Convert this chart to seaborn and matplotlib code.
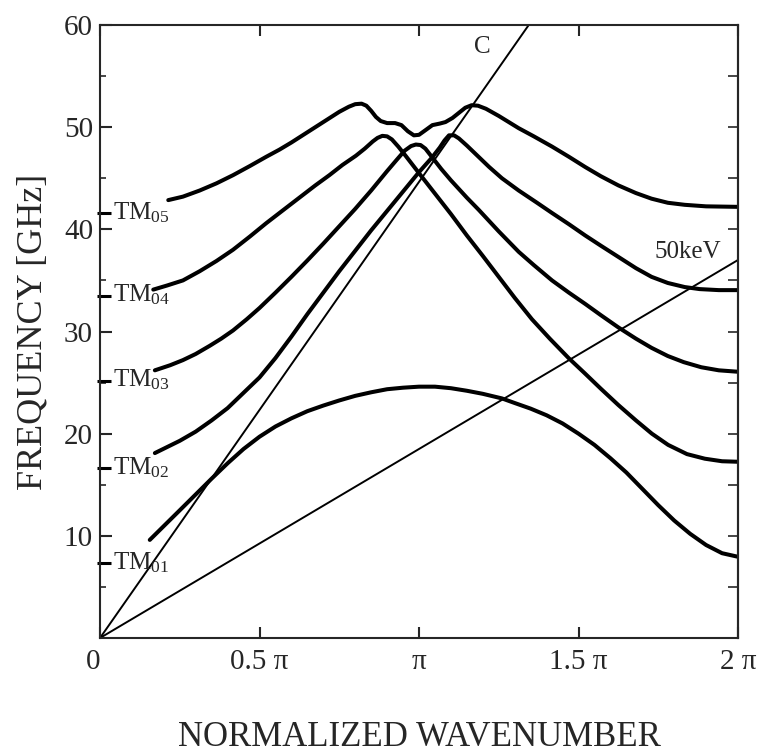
import numpy as np
import pandas as pd
import matplotlib
matplotlib.use("Agg")
import matplotlib.pyplot as plt
from matplotlib.ticker import MultipleLocator
import seaborn as sns

# Dispersion of the corrugated waveguide: wavenumber k (in units of pi) vs frequency (GHz)
tm01_k = [0.156, 0.25, 0.35, 0.40, 0.45, 0.50, 0.55, 0.60, 0.65, 0.70, 0.75, 0.80,
          0.85, 0.90, 0.95, 1.00, 1.05, 1.10, 1.15, 1.20, 1.26, 1.30, 1.35, 1.40,
          1.45, 1.50, 1.55, 1.60, 1.65, 1.70, 1.75, 1.80, 1.85, 1.90, 1.95, 2.00]
tm01_f = [9.6, 12.5, 15.6, 17.1, 18.5, 19.7, 20.7, 21.5, 22.2, 22.75, 23.25, 23.7,
          24.05, 24.35, 24.5, 24.6, 24.6, 24.45, 24.2, 23.9, 23.45, 23.0, 22.45, 21.8,
          21.0, 20.0, 18.9, 17.6, 16.2, 14.6, 13.0, 11.5, 10.2, 9.1, 8.3, 7.95]

tm02_tm04_k = [0.172, 0.25, 0.30, 0.35, 0.40, 0.45, 0.50, 0.55, 0.60, 0.65, 0.70, 0.75,
               0.80, 0.85, 0.90, 0.95, 1.00, 1.04, 1.065, 1.08, 1.094, 1.11, 1.125,
               1.15, 1.18, 1.22, 1.26, 1.3125, 1.37, 1.417, 1.47, 1.521, 1.57, 1.625,
               1.68, 1.729, 1.78, 1.833, 1.88, 1.94, 2.0]
tm02_tm04_f = [18.1, 19.3, 20.2, 21.3, 22.5, 24.0, 25.5, 27.4, 29.5, 31.7, 33.8, 35.9,
               37.9, 39.9, 41.8, 43.7, 45.6, 47.0, 48.0, 48.7, 49.2, 49.2, 48.9,
               48.2, 47.3, 46.1, 45.0, 43.8, 42.6, 41.6, 40.5, 39.4, 38.4, 37.3,
               36.2, 35.35, 34.75, 34.35, 34.15, 34.05, 34.05]

tm04_tm02_k = [0.167, 0.21, 0.26, 0.3125, 0.365, 0.417, 0.47, 0.521, 0.575, 0.625,
               0.675, 0.719, 0.76, 0.802, 0.83, 0.855, 0.87, 0.885, 0.9, 0.915, 0.935,
               0.958, 1.0, 1.05, 1.1, 1.15, 1.2, 1.25, 1.3, 1.354, 1.41, 1.469, 1.52,
               1.57, 1.625, 1.68, 1.73, 1.781, 1.84, 1.896, 1.95, 2.0]
tm04_tm02_f = [34.1, 34.5, 35.0, 35.9, 36.9, 38.0, 39.3, 40.6, 41.9, 43.1,
               44.3, 45.3, 46.3, 47.2, 47.9, 48.6, 48.95, 49.15, 49.1, 48.8, 48.1,
               47.2, 45.5, 43.5, 41.5, 39.4, 37.4, 35.35, 33.3, 31.2, 29.3, 27.4, 25.9,
               24.4, 22.8, 21.3, 20.0, 18.9, 18.0, 17.55, 17.3, 17.25]

tm03_k = [0.172, 0.22, 0.26, 0.30, 0.344, 0.38, 0.417, 0.46, 0.5, 0.55, 0.6, 0.65,
          0.7, 0.75, 0.8, 0.85, 0.9, 0.93, 0.955, 0.975, 0.99, 1.005, 1.02, 1.04,
          1.07, 1.1, 1.15, 1.1875, 1.25, 1.3125, 1.36, 1.417, 1.47, 1.521, 1.57,
          1.625, 1.68, 1.729, 1.78, 1.83, 1.885, 1.94, 2.0]
tm03_f = [26.2, 26.7, 27.2, 27.8, 28.6, 29.3, 30.1, 31.2, 32.3, 33.8, 35.35, 36.95,
          38.6, 40.3, 42.0, 43.8, 45.7, 46.8, 47.7, 48.15, 48.3, 48.25, 47.9, 47.1,
          45.9, 44.8, 43.1, 41.9, 39.8, 37.8, 36.5, 35.0, 33.8, 32.7, 31.6,
          30.4, 29.3, 28.4, 27.6, 27.0, 26.5, 26.2, 26.06]

tm05_k = [0.214, 0.26, 0.3125, 0.365, 0.417, 0.47, 0.521, 0.5625, 0.6, 0.64, 0.68,
          0.72, 0.75, 0.78, 0.80, 0.82, 0.835, 0.85, 0.865, 0.88, 0.9, 0.925, 0.945,
          0.965, 0.984, 1.0, 1.02, 1.042, 1.065, 1.083, 1.105, 1.125, 1.145, 1.165,
          1.185, 1.21, 1.25, 1.3125, 1.36, 1.417, 1.47, 1.521, 1.57, 1.625, 1.68,
          1.729, 1.78, 1.833, 1.9, 2.0]
tm05_f = [42.86, 43.2, 43.8, 44.5, 45.3, 46.2, 47.1, 47.8, 48.5, 49.3, 50.1,
          50.9, 51.5, 52.0, 52.25, 52.3, 52.1, 51.6, 51.0, 50.6, 50.4, 50.4, 50.2,
          49.6, 49.2, 49.25, 49.7, 50.2, 50.35, 50.5, 50.9, 51.4, 51.9, 52.15,
          52.1, 51.8, 51.1, 49.9, 49.1, 48.1, 47.1, 46.1, 45.2, 44.3, 43.55,
          43.0, 42.6, 42.4, 42.25, 42.2]

# Cutoff frequencies of the smooth-pipe TM0n modes
cutoff_names = ["TM$_{01}$", "TM$_{02}$", "TM$_{03}$", "TM$_{04}$", "TM$_{05}$"]
cutoff_f = [7.3, 16.6, 25.2, 33.5, 41.6]

# Speed-of-light line and 50 keV beam line
light_k = [0.0, 1.344]
light_f = [0.0, 60.0]
beam_k = [0.0, 2.0]
beam_f = [0.0, 37.0]

xtick_vals = [0, 0.5, 1, 1.5, 2]
xtick_labels = ["0", "0.5 \u03c0", "\u03c0", "1.5 \u03c0", "2 \u03c0"]
ytick_vals = [10, 20, 30, 40, 50, 60]
ytick_labels = ["10", "20", "30", "40", "50", "60"]

sns.set_style("ticks")
plt.rcParams["font.family"] = ["Liberation Serif", "DejaVu Serif"]
plt.rcParams["mathtext.fontset"] = "custom"
plt.rcParams["mathtext.rm"] = "Liberation Serif"
plt.rcParams["mathtext.it"] = "Liberation Serif:italic"
plt.rcParams["axes.linewidth"] = 1.5

curves = pd.concat([
    pd.DataFrame({"k": tm01_k, "f": tm01_f, "curve": "TM01"}),
    pd.DataFrame({"k": tm02_tm04_k, "f": tm02_tm04_f, "curve": "TM02-TM04"}),
    pd.DataFrame({"k": tm04_tm02_k, "f": tm04_tm02_f, "curve": "TM04-TM02"}),
    pd.DataFrame({"k": tm03_k, "f": tm03_f, "curve": "TM03"}),
    pd.DataFrame({"k": tm05_k, "f": tm05_f, "curve": "TM05"}),
], ignore_index=True)
guides = pd.concat([
    pd.DataFrame({"k": light_k, "f": light_f, "line": "c"}),
    pd.DataFrame({"k": beam_k, "f": beam_f, "line": "50keV"}),
], ignore_index=True)

fig = plt.figure(figsize=(7.61, 7.56), dpi=100)
ax = fig.add_axes([100 / 761, 118 / 756, 638 / 761, 613 / 756])

sns.lineplot(data=guides, x="k", y="f", units="line", estimator=None, sort=False,
             color="black", lw=1.4, legend=False, ax=ax)
sns.lineplot(data=curves, x="k", y="f", units="curve", estimator=None, sort=False,
             color="black", lw=2.9, legend=False, ax=ax,
             solid_capstyle="round", solid_joinstyle="round")

ax.set_xlim(0, 2)
ax.set_ylim(0, 60)

# cutoff markers on the frequency axis with their mode names
ax.hlines(cutoff_f, -0.004, 0.018, transform=ax.get_yaxis_transform(),
          color="black", lw=2.2, clip_on=False)
for name, fc in zip(cutoff_names, cutoff_f):
    ax.text(0.04, fc - 0.6, name, fontsize=18, ha="left", va="baseline")

ax.text(1.197, 57.8, "C", fontsize=18, ha="center", va="center")
ax.text(1.844, 37.8, "50keV", fontsize=18, ha="center", va="center")

ax.set_xticks(xtick_vals)
ax.set_xticklabels(xtick_labels)
ax.set_yticks(ytick_vals)
ax.set_yticklabels(ytick_labels)
ax.yaxis.set_minor_locator(MultipleLocator(5))
ax.tick_params(axis="x", which="major", direction="in", length=8, width=1.5,
               top=True, bottom=True, labelsize=21, pad=8)
ax.tick_params(axis="y", which="major", direction="in", length=8.6, width=1.5,
               left=True, right=False, labelsize=21, pad=5)
ax.tick_params(axis="y", which="minor", direction="in", length=4.3, width=1.2,
               left=True, right=False)
ax.get_xticklabels()[0].set_horizontalalignment("right")

sec = ax.secondary_yaxis("right")
sec.set_yticks(np.arange(5, 60, 5))
sec.tick_params(direction="in", length=7, width=1.2, labelright=False)
sec.spines["right"].set_linewidth(1.5)

for s in ax.spines.values():
    s.set_visible(True)
    s.set_linewidth(1.5)

ax.set_xlabel("NORMALIZED WAVENUMBER", fontsize=25)
ax.set_ylabel("FREQUENCY [GHz]", fontsize=26)
ax.xaxis.label.set_va("baseline")
ax.xaxis.set_label_coords(0.5, -0.176)
ax.yaxis.label.set_va("center")
ax.yaxis.set_label_coords(-0.105, 0.5)

fig.savefig("out.png", dpi=100, facecolor="white")
